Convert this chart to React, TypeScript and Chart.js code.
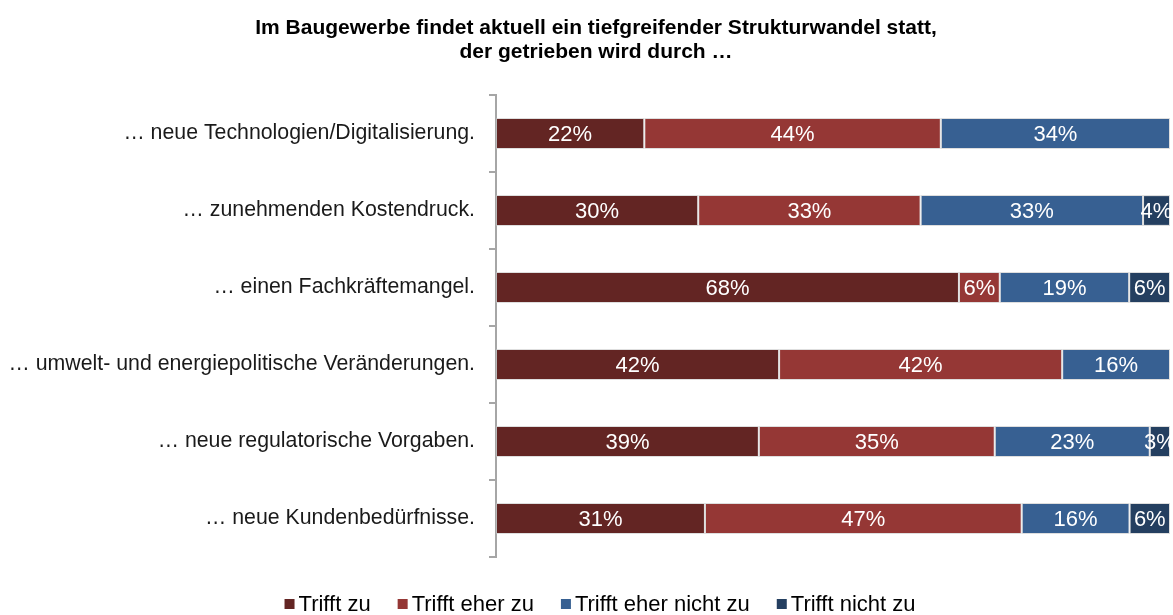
import React, { useEffect, useRef } from "react";
import { Chart, registerables } from "chart.js";

Chart.register(...registerables);

const titleLines = [
  "Im Baugewerbe findet aktuell ein tiefgreifender Strukturwandel statt,",
  "der getrieben wird durch …",
];

const categories = [
  "… neue Technologien/Digitalisierung.",
  "… zunehmenden Kostendruck.",
  "… einen Fachkräftemangel.",
  "… umwelt- und energiepolitische Veränderungen.",
  "… neue regulatorische Vorgaben.",
  "… neue Kundenbedürfnisse.",
];

const seriesNames = ["Trifft zu", "Trifft eher zu", "Trifft eher nicht zu", "Trifft nicht zu"];
const trifftZu = [22, 30, 68, 42, 39, 31];
const trifftEherZu = [44, 33, 6, 42, 35, 47];
const trifftEherNichtZu = [34, 33, 19, 16, 23, 16];
const trifftNichtZu = [0, 4, 6, 0, 3, 6];
const seriesColors = ["#632523", "#953735", "#376092", "#243F60"];

const FONT = "'Liberation Sans', Arial, sans-serif";

export default function App() {
  const ref = useRef<HTMLCanvasElement | null>(null);

  useEffect(() => {
    document.body.style.margin = "0";
    const raw = [trifftZu, trifftEherZu, trifftEherNichtZu, trifftNichtZu];
    const sums = categories.map((_, i) => raw.reduce((s, arr) => s + arr[i], 0));
    const datasets = raw.map((arr, k) => ({
      label: seriesNames[k],
      data: arr.map((v, i) => (v / sums[i]) * 100),
      rawValues: arr,
      backgroundColor: seriesColors[k],
      borderColor: "rgba(200,200,200,0.6)",
      borderWidth: 1,
      borderSkipped: false,
      barPercentage: 1,
      categoryPercentage: 0.4,
    }));

    const labelPlugin = {
      id: "segLabels",
      afterDatasetsDraw(chart: any) {
        const ctx = chart.ctx;
        ctx.save();
        ctx.font = `22px ${FONT}`;
        ctx.fillStyle = "#ffffff";
        ctx.textAlign = "center";
        ctx.textBaseline = "middle";
        chart.data.datasets.forEach((ds: any, di: number) => {
          const meta = chart.getDatasetMeta(di);
          meta.data.forEach((bar: any, i: number) => {
            const v = ds.rawValues[i];
            if (!v) return;
            const cx = (bar.x + bar.base) / 2;
            ctx.fillText(`${v}%`, cx, bar.y + 1);
          });
        });
        ctx.restore();
      },
    };

    const titleLegendPlugin = {
      id: "titleLegend",
      afterDraw(chart: any) {
        const ctx = chart.ctx;
        ctx.save();
        ctx.font = `bold 21px ${FONT}`;
        ctx.fillStyle = "#000000";
        ctx.textAlign = "center";
        ctx.textBaseline = "middle";
        titleLines.forEach((t, i) => ctx.fillText(t, 596, 28 + i * 24));

        // legend
        ctx.font = `22px ${FONT}`;
        ctx.textAlign = "left";
        const box = 10;
        const gapBox = 4;
        const gapItem = 27;
        const widths = chart.data.datasets.map(
          (ds: any) => box + gapBox + ctx.measureText(ds.label).width
        );
        const total = widths.reduce((a: number, b: number) => a + b, 0) + gapItem * (widths.length - 1);
        let x = 600 - total / 2;
        const y = 604;
        chart.data.datasets.forEach((ds: any, i: number) => {
          ctx.fillStyle = ds.backgroundColor;
          ctx.fillRect(x, y - box / 2, box, box);
          ctx.fillStyle = "#000000";
          ctx.fillText(ds.label, x + box + gapBox, y + 1);
          x += widths[i] + gapItem;
        });
        ctx.restore();
      },
    };

    const chart = new Chart(ref.current as HTMLCanvasElement, {
      type: "bar",
      data: { labels: categories, datasets: datasets as any },
      plugins: [labelPlugin, titleLegendPlugin],
      options: {
        indexAxis: "y",
        animation: false,
        responsive: false,
        maintainAspectRatio: false,
        layout: { padding: { top: 95, right: 3, left: 0, bottom: 58 } },
        plugins: {
          title: { display: false },
          tooltip: { enabled: false },
          legend: { display: false },
        },
        scales: {
          x: {
            stacked: true,
            min: 0,
            max: 100,
            display: false,
          },
          y: {
            stacked: true,
            afterFit: (scale: any) => {
              scale.width = 496;
            },
            border: { display: true, color: "#a6a6a6", width: 2 },
            grid: {
              display: true,
              offset: true,
              drawOnChartArea: false,
              drawTicks: true,
              tickLength: 7,
              color: "#a6a6a6",
              lineWidth: 2,
            },
            ticks: {
              padding: 14,
              color: "#1a1a1a",
              font: { family: FONT, size: 21.3 },
            },
          },
        },
      },
    });
    return () => chart.destroy();
  }, []);

  return (
    <div style={{ position: "relative", width: 1173, height: 615 }}>
      <canvas ref={ref} width={1173} height={615} style={{ display: "block", width: 1173, height: 615 }} />
    </div>
  );
}
